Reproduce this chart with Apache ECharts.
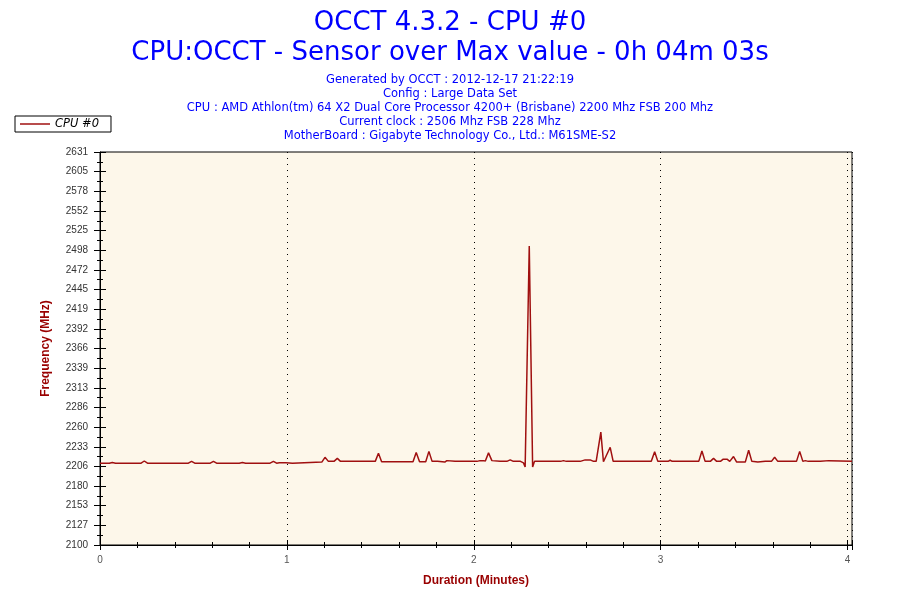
<!DOCTYPE html>
<html>
<head>
<meta charset="utf-8">
<script src="https://cdn.jsdelivr.net/npm/echarts@6/dist/echarts.min.js"></script>
<style>
  html, body { margin: 0; padding: 0; background: #fff; }
  #chart { width: 900px; height: 600px; }
</style>
</head>
<body>
<div id="chart"></div>
<script>
    // sample times (minutes) and frequency (MHz)
    var timeMin = [
        0, 0.05, 0.066, 0.083, 0.22, 0.237, 0.254, 0.473, 0.49, 0.507,
        0.59, 0.607, 0.624, 0.745, 0.762, 0.779, 0.91, 0.928, 0.945, 0.96,
        0.995, 1.003, 1.03, 1.04, 1.187, 1.204, 1.222, 1.252, 1.27, 1.287,
        1.356, 1.366, 1.376, 1.473, 1.49, 1.507, 1.545, 1.552, 1.562, 1.675,
        1.692, 1.71, 1.743, 1.76, 1.777, 1.806, 1.815, 1.845, 1.856, 1.865,
        1.9, 1.909, 1.918, 1.936, 1.945, 1.954, 2.017, 2.034, 2.05, 2.062,
        2.079, 2.097, 2.105, 2.141, 2.15, 2.165, 2.177, 2.195, 2.212, 2.25,
        2.266, 2.275, 2.297, 2.315, 2.325, 2.465, 2.48, 2.495, 2.57, 2.579,
        2.596, 2.623, 2.641, 2.655, 2.68, 2.694, 2.73, 2.746, 2.95, 2.968,
        2.985, 3.04, 3.051, 3.062, 3.078, 3.087, 3.096, 3.132, 3.141, 3.15,
        3.204, 3.221, 3.238, 3.266, 3.283, 3.3, 3.32, 3.335, 3.355, 3.37,
        3.39, 3.407, 3.453, 3.471, 3.488, 3.52, 3.56, 3.593, 3.61, 3.627,
        3.727, 3.744, 3.761, 3.774, 3.79, 3.837, 3.846, 3.855, 3.9, 3.91,
        4.024
    ];
    var freqMHz = [
        2210.5, 2210.5, 2211.5, 2210.5, 2210.5, 2213.5, 2210.5, 2210.5, 2213, 2210.5,
        2210.5, 2213, 2210.5, 2210.5, 2211.5, 2210.5, 2210.5, 2213, 2210.5, 2211,
        2211, 2210.5, 2210.5, 2212, 2212, 2218.5, 2213, 2213, 2217, 2213,
        2213, 2214, 2213, 2213, 2224, 2212.5, 2212.5, 2211.5, 2212.5, 2212.5,
        2225, 2212.5, 2212.5, 2226.5, 2213, 2213, 2212, 2212, 2214, 2213,
        2213, 2212, 2213, 2213, 2214, 2213, 2213, 2214, 2214, 2213.5,
        2224.5, 2214, 2214, 2213, 2214, 2213, 2213, 2215, 2213, 2213,
        2211, 2205.5, 2504, 2205.5, 2213, 2213, 2214, 2213, 2213, 2212,
        2215, 2215, 2213, 2213, 2252.5, 2212.5, 2232, 2213, 2213, 2226,
        2213, 2213, 2214.5, 2213, 2213, 2214.5, 2213, 2213, 2214.5, 2213,
        2213, 2227, 2213, 2213, 2217, 2213, 2213, 2216, 2216, 2213,
        2219.5, 2212, 2212, 2228, 2213, 2212, 2213, 2213, 2218.5, 2213,
        2213, 2226.5, 2213, 2214, 2213, 2213, 2214, 2213, 2214, 2213,
        2213
    ];
    var yTickLabels = ['2100','2127','2153','2180','2206','2233','2260','2286','2313','2339',
        '2366','2392','2419','2445','2472','2498','2525','2552','2578','2605','2631'];
    var yMin = 2100, yMax = 2631, yStep = 26.55;
    var xMax = 4.024;

    var infoLines = [
        'Generated by OCCT : 2012-12-17 21:22:19',
        'Config : Large Data Set',
        'CPU : AMD Athlon(tm) 64 X2 Dual Core Processor 4200+ (Brisbane) 2200 Mhz FSB 200 Mhz',
        'Current clock : 2506 Mhz FSB 228 Mhz',
        'MotherBoard : Gigabyte Technology Co., Ltd.: M61SME-S2'
    ];

    var seriesData = timeMin.map(function (t, i) { return [t, freqMHz[i]]; });

    var titles = [
        { text: 'OCCT 4.3.2 - CPU #0', left: 'center', top: 5,
          textStyle: { color: '#0000ff', fontSize: 26, fontWeight: 'normal', fontFamily: 'DejaVu Sans' } },
        { text: 'CPU:OCCT - Sensor over Max value - 0h 04m 03s', left: 'center', top: 35,
          textStyle: { color: '#0000ff', fontSize: 26, fontWeight: 'normal', fontFamily: 'DejaVu Sans' } }
    ];
    infoLines.forEach(function (s, i) {
        titles.push({ text: s, left: 'center', top: 69 + i * 14,
            textStyle: { color: '#0000ff', fontSize: 11.5, fontWeight: 'normal', fontFamily: 'DejaVu Sans' } });
    });

    var chart = echarts.init(document.getElementById('chart'));
    var yLabelFmt = function (v) {
        return yTickLabels[Math.round((v - yMin) / yStep)] || '';
    };
    var xLabelFmt = function (v) {
        return Math.abs(v - Math.round(v)) < 1e-6 ? String(Math.round(v)) : '';
    };
    var option = {
        animation: false,
        title: titles,
        legend: {
            data: ['CPU #0'],
            left: 15,
            top: 116,
            orient: 'vertical',
            backgroundColor: '#fff',
            borderColor: '#000',
            borderWidth: 1,
            borderRadius: 0,
            padding: [2, 12, 2, 5],
            icon: 'rect',
            itemWidth: 30,
            itemHeight: 1.5,
            textStyle: { color: '#000', fontStyle: 'italic', fontSize: 11.5, fontFamily: 'DejaVu Sans' }
        },
        grid: {
            left: 100, right: 48, top: 152, bottom: 55,
            show: true,
            backgroundColor: '#fdf7ea',
            borderColor: '#000',
            borderWidth: 1
        },
        xAxis: [
            {
                type: 'value', min: 0, max: xMax, interval: 1,
                name: 'Duration (Minutes)', nameLocation: 'middle', nameGap: 30,
                nameTextStyle: { color: '#990000', fontWeight: 'bold', fontSize: 12, fontFamily: 'Liberation Sans' },
                axisLine: { show: true, lineStyle: { color: '#000', width: 1 } },
                axisTick: { show: true, length: 5, lineStyle: { color: '#000' } },
                minorTick: { show: true, splitNumber: 5, length: 3, lineStyle: { color: '#000' } },
                axisLabel: { color: '#555', fontSize: 10, margin: 10, formatter: xLabelFmt,
                    showMaxLabel: false, fontFamily: 'Liberation Sans' },
                splitLine: { show: true, lineStyle: { color: '#000', type: [1, 5], width: 1 } }
            },
            {
                type: 'value', min: 0, max: xMax, interval: 1, position: 'bottom',
                axisLine: { show: false },
                axisTick: { show: true, inside: true, length: 5, lineStyle: { color: '#000' } },
                minorTick: { show: true, splitNumber: 5, length: 3, lineStyle: { color: '#000' } },
                axisLabel: { show: false },
                splitLine: { show: false }
            }
        ],
        yAxis: [
            {
                type: 'value', min: yMin, max: yMax, interval: yStep,
                name: 'Frequency (MHz)', nameLocation: 'middle', nameGap: 48, nameRotate: 90,
                nameTextStyle: { color: '#990000', fontWeight: 'bold', fontSize: 12, fontFamily: 'Liberation Sans' },
                axisLine: { show: true, lineStyle: { color: '#000', width: 1 } },
                axisTick: { show: true, length: 6, lineStyle: { color: '#000' } },
                minorTick: { show: true, splitNumber: 2, length: 3, lineStyle: { color: '#000' } },
                axisLabel: { color: '#333', fontSize: 10, margin: 12, formatter: yLabelFmt, fontFamily: 'Liberation Sans' },
                splitLine: { show: false }
            },
            {
                type: 'value', min: yMin, max: yMax, interval: yStep, position: 'left',
                axisLine: { show: false },
                axisTick: { show: true, inside: true, length: 6, lineStyle: { color: '#000' } },
                minorTick: { show: true, splitNumber: 2, length: 3, lineStyle: { color: '#000' } },
                axisLabel: { show: false },
                splitLine: { show: false }
            }
        ],
        series: [
            {
                name: 'CPU #0',
                type: 'line',
                data: seriesData,
                showSymbol: false,
                symbol: 'none',
                color: '#a01010',
                lineStyle: { color: '#a01010', width: 1.5 }
            }
        ]
    };
    chart.setOption(option);
</script>
</body>
</html>
